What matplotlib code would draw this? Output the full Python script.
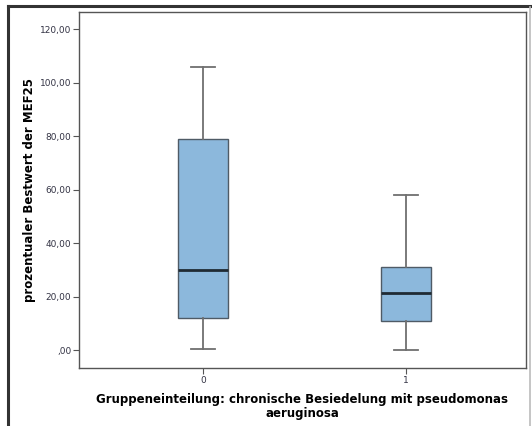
import matplotlib
matplotlib.use('Agg')
import matplotlib.pyplot as plt
from matplotlib.lines import Line2D

# Boxplot values for the two groups (percent of best MEF25)
groups = ['0', '1']
whisker_low = [0.5, 0.0]
q1 = [12.0, 11.0]
median = [30.0, 21.3]
q3 = [79.0, 31.0]
whisker_high = [106.0, 58.0]

yticks = [0, 20, 40, 60, 80, 100, 120]
ytick_labels = [',00', '20,00', '40,00', '60,00', '80,00', '100,00', '120,00']

stats = []
for i, g in enumerate(groups):
    stats.append({'label': g, 'whislo': whisker_low[i], 'q1': q1[i], 'med': median[i],
                  'q3': q3[i], 'whishi': whisker_high[i], 'fliers': []})

fig = plt.figure(figsize=(5.32, 4.26), dpi=100)
ax = fig.add_axes([79 / 532, 58 / 426, (526 - 79) / 532, (368 - 12) / 426])

ax.bxp(stats, positions=[0, 1], widths=0.25, patch_artist=True,
       boxprops=dict(facecolor='#8cb8dc', edgecolor='#4f5b66', linewidth=1.0),
       medianprops=dict(color='#1f2a33', linewidth=2.0),
       whiskerprops=dict(color='#707070', linewidth=1.3),
       capprops=dict(color='#707070', linewidth=1.3),
       capwidths=0.12)

ax.set_xlim(-0.611, 1.591)
ax.set_ylim(-6.7, 126.4)
ax.set_yticks(yticks)
ax.set_yticklabels(ytick_labels, fontsize=6.5, color='#333344')
ax.set_xticks([0, 1])
ax.set_xticklabels(groups, fontsize=6.5, color='#333344')
ax.tick_params(direction='out', length=4, width=0.8, color='#555555', pad=1.5)

for s in ax.spines.values():
    s.set_color('#555555')
    s.set_linewidth(1.0)

ax.set_ylabel('prozentualer Bestwert der MEF25', fontsize=8.5, fontweight='bold', labelpad=3)
ax.set_xlabel('Gruppeneinteilung: chronische Besiedelung mit pseudomonas\naeruginosa',
              fontsize=8.5, fontweight='bold', linespacing=1.1, labelpad=6)

# outer frame lines
fig.add_artist(Line2D([8 / 532, 8 / 532], [0, 1 - 6 / 426], transform=fig.transFigure,
                      color='#333333', linewidth=2.2))
fig.add_artist(Line2D([8 / 532, 1], [1 - 6 / 426, 1 - 6 / 426], transform=fig.transFigure,
                      color='#333333', linewidth=2.2))
fig.add_artist(Line2D([529.5 / 532, 529.5 / 532], [0, 1 - 7 / 426], transform=fig.transFigure,
                      color='#bbbbbb', linewidth=1.2))

fig.savefig('out.png', dpi=100)
